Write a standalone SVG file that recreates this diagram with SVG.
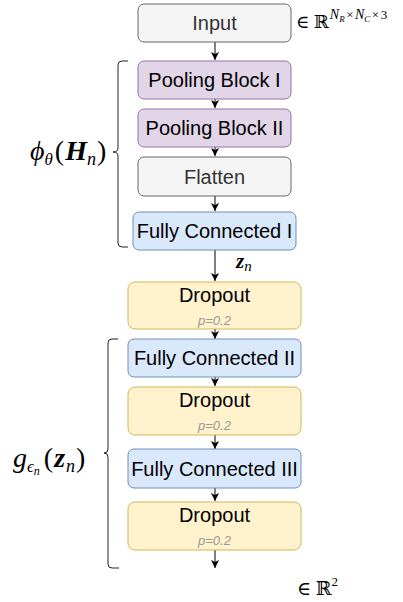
<svg xmlns="http://www.w3.org/2000/svg" width="403" height="602" viewBox="0 0 403 602">
  <style>
    .box { stroke-width: 1; }
    .gray { fill: #f5f5f5; stroke: #666666; }
    .pool { fill: #e1d5e7; stroke: #9673a6; }
    .fc { fill: #dae8fc; stroke: #6c8ebf; }
    .drop { fill: #fff2cc; stroke: #d6b656; }
    .lbl { font-family: "Liberation Sans", Arial, sans-serif; font-size: 20px; text-anchor: middle; fill: #000000; }
    .lbl.dim { fill: #333333; }
    .prob { font-family: "Liberation Sans", Arial, sans-serif; font-size: 13px; font-style: italic; text-anchor: middle; fill: #999999; }
    .math { font-family: "Liberation Serif", "DejaVu Serif", serif; fill: #000000; }
    .it { font-style: italic; }
    .bi { font-style: italic; font-weight: bold; }
    .edge { stroke: #000000; stroke-width: 1; fill: none; }
    .brace { stroke: #222222; stroke-width: 1; fill: none; }
  </style>
  <defs>
    <marker id="arrow" markerUnits="userSpaceOnUse" markerWidth="10" markerHeight="10" refX="8" refY="4" orient="auto">
      <path d="M0,0 L8,4 L0,8 L2,4 z" fill="#000000"/>
    </marker>
  </defs>

  <!-- connectors -->
  <g id="connectors">
    <path class="edge" d="M215,42 V60" marker-end="url(#arrow)"/>
    <path class="edge" d="M215,99 V108" marker-end="url(#arrow)"/>
    <path class="edge" d="M215,147 V156" marker-end="url(#arrow)"/>
    <path class="edge" d="M215,196 V211" marker-end="url(#arrow)"/>
    <path class="edge" d="M215,250 V281" marker-end="url(#arrow)"/>
    <path class="edge" d="M215,329 V339" marker-end="url(#arrow)"/>
    <path class="edge" d="M215,339 V350"/>
    <path class="edge" d="M215,377 V386" marker-end="url(#arrow)"/>
    <path class="edge" d="M215,435 V449" marker-end="url(#arrow)"/>
    <path class="edge" d="M215,449 V455"/>
    <path class="edge" d="M215,488 V501" marker-end="url(#arrow)"/>
    <path class="edge" d="M215,550 V568" marker-end="url(#arrow)"/>
  </g>

  <!-- feature extractor -->
  <g id="input">
    <rect class="box gray" x="138" y="4" width="153" height="38" rx="6"/>
    <text class="lbl dim" x="214.5" y="30">Input</text>
  </g>
  <g id="pooling1">
    <rect class="box pool" x="138" y="61" width="153" height="38" rx="6"/>
    <text class="lbl" x="214.5" y="87">Pooling Block I</text>
  </g>
  <g id="pooling2">
    <rect class="box pool" x="138" y="109" width="153" height="38" rx="6"/>
    <text class="lbl" x="214.5" y="135">Pooling Block II</text>
  </g>
  <g id="flatten">
    <rect class="box gray" x="138" y="157" width="153" height="39" rx="6"/>
    <text class="lbl dim" x="214.5" y="183.5">Flatten</text>
  </g>
  <g id="fc1">
    <rect class="box fc" x="133" y="212" width="163" height="38" rx="6"/>
    <text class="lbl" x="214.5" y="238">Fully Connected I</text>
  </g>

  <!-- classifier head -->
  <g id="dropout1">
    <rect class="box drop" x="128" y="282" width="173" height="47" rx="7"/>
    <text class="lbl" x="214.5" y="302">Dropout</text>
    <text class="prob" x="214.5" y="325">p=0.2</text>
  </g>
  <g id="fc2">
    <rect class="box fc" x="128" y="339" width="173" height="38" rx="6"/>
    <text class="lbl" x="214.5" y="365">Fully Connected II</text>
  </g>
  <g id="dropout2">
    <rect class="box drop" x="128" y="387" width="173" height="48" rx="7"/>
    <text class="lbl" x="214.5" y="407">Dropout</text>
    <text class="prob" x="214.5" y="430">p=0.2</text>
  </g>
  <g id="fc3">
    <rect class="box fc" x="128" y="449" width="173" height="39" rx="6"/>
    <text class="lbl" x="214.5" y="475.5">Fully Connected III</text>
  </g>
  <g id="dropout3">
    <rect class="box drop" x="128" y="502" width="173" height="48" rx="7"/>
    <text class="lbl" x="214.5" y="522">Dropout</text>
    <text class="prob" x="214.5" y="545">p=0.2</text>
  </g>

  <!-- braces -->
  <g id="brace-phi">
    <path class="brace" d="M128,61 H122 Q118,61 118,65 V148 Q118,152 113,152 Q118,152 118,156 V243 Q118,247 122,247 H128"/>
  </g>
  <g id="brace-g">
    <path class="brace" d="M118,339 H112 Q108,339 108,343 V449 Q108,453 104,453 Q108,453 108,457 V564 Q108,568 112,568 H119"/>
  </g>

  <!-- annotations -->
  <g id="label-phi">
    <text class="math" x="30" y="160" font-size="28"><tspan class="it">ϕ</tspan><tspan class="it" font-size="17" dy="5">θ</tspan><tspan dy="-5" dx="2">(</tspan><tspan class="bi" dx="1">H</tspan><tspan class="it" font-size="18" dy="5">n</tspan><tspan dy="-5" dx="1">)</tspan></text>
  </g>
  <g id="label-g">
    <text class="math" x="13" y="467" font-size="28"><tspan class="it">g</tspan><tspan class="it" font-size="17" dy="5">ϵ</tspan><tspan class="it" font-size="12" dy="3">n</tspan><tspan dy="-8" dx="4">(</tspan><tspan class="bi" dx="1">z</tspan><tspan class="it" font-size="18" dy="5" dx="1">n</tspan><tspan dy="-5" dx="1">)</tspan></text>
  </g>
  <g id="label-z">
    <text class="math" x="236" y="268" font-size="21"><tspan class="bi">z</tspan><tspan class="it" font-size="15" dy="3">n</tspan></text>
  </g>
  <g id="label-input-dim">
    <text class="math" x="296" y="28" font-size="18">∈ ℝ<tspan class="it" font-size="14" dy="-9" dx="1">N</tspan><tspan class="it" font-size="9" dy="3">R</tspan><tspan font-size="13" dy="-3" dx="1.5">×</tspan><tspan class="it" font-size="14" dx="1.5">N</tspan><tspan class="it" font-size="9" dy="3">C</tspan><tspan font-size="13" dy="-3" dx="1.5">×</tspan><tspan font-size="13" dx="1.5">3</tspan></text>
  </g>
  <g id="label-output-dim">
    <text class="math" x="297" y="595" font-size="19">∈ ℝ<tspan font-size="13" dy="-9">2</tspan></text>
  </g>
</svg>
